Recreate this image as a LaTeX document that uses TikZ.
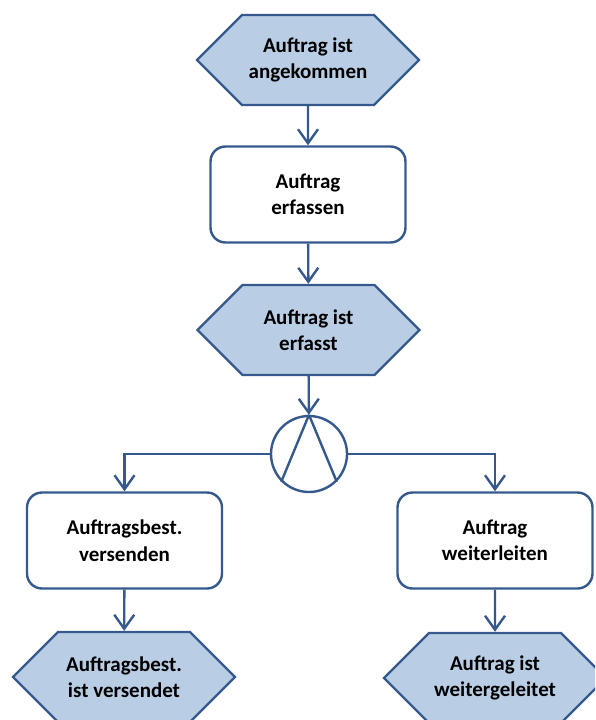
\documentclass[tikz,border=0pt]{standalone}
\usepackage{fontspec}
\setmainfont{Carlito}
\usetikzlibrary{shapes.symbols,arrows.meta}
\definecolor{epcline}{HTML}{35598C}
\definecolor{epcfill}{HTML}{B9CDE5}

\begin{document}
\begin{tikzpicture}[x=1pt, y=-1pt, line width=2.4pt,
  every node/.style={draw=epcline, align=center, font=\fontsize{21}{26.5}\selectfont\bfseries},
  event/.style={signal, signal to=east and west, signal pointer angle=90, fill=epcfill, minimum width=222pt, minimum height=90pt},
  func/.style={rounded corners=15pt, minimum width=195pt, minimum height=96pt},
  conn/.style={circle, minimum size=76pt},
  flow/.style={draw=epcline, -{Straight Barb[length=14pt,width=20pt]}}]

\useasboundingbox (0,0) rectangle (595,720);
\clip (0,0) rectangle (595,720);

\node[event] (e1) at (308, 60) {Auftrag ist\\angekommen};
\node[func] (f1) at (308, 194.5) {Auftrag\\erfassen};
\node[event] (e2) at (308.5, 330) {Auftrag ist\\erfasst};

\node[conn] (and1) at (309, 454) {};
\draw[epcline] (and1.north) -- (and1.225) (and1.north) -- (and1.315);

\node[func] (f2) at (124.5, 540.5) {Auftragsbest.\\versenden};
\node[func] (f3) at (495, 540.5) {Auftrag\\weiterleiten};
\node[event] (e3) at (124, 677) {Auftragsbest.\\ist versendet};
\node[event] (e4) at (495, 678) {Auftrag ist\\weitergeleitet};

\draw[flow] (e1) -- (f1);
\draw[flow] (f1) -- (e2);
\draw[flow] (e2) -- (and1);
\draw[flow] (and1.west) -| (f2);
\draw[flow] (and1.east) -| (f3);
\draw[flow] (f2) -- (e3);
\draw[flow] (f3) -- (e4);

\end{tikzpicture}
\end{document}
